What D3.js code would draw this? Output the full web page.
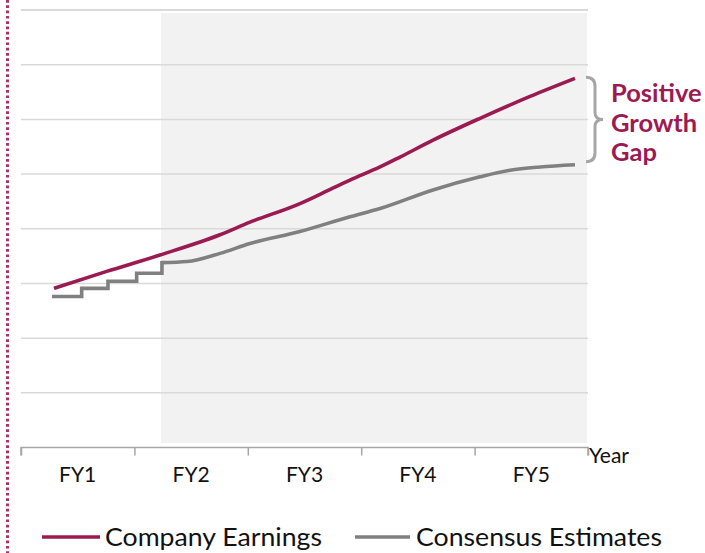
<!DOCTYPE html>
<html>
<head>
<meta charset="utf-8">
<script src="https://cdn.jsdelivr.net/npm/d3@7"></script>
<style>
  html, body { margin: 0; padding: 0; background: #ffffff; }
  svg { display: block; }
</style>
</head>
<body>
<svg id="chart" width="705" height="553"></svg>
<script>
// ---------------- DATA ----------------
const categories = ["FY1", "FY2", "FY3", "FY4", "FY5"];
const axisTitle = "Year";

// Company Earnings: time (years from start of FY1) and value
const companyT = [0.291, 0.756, 1.226, 1.755, 2.019, 2.460, 2.637, 2.901, 3.166, 3.342, 3.633, 4.048, 4.489, 4.885];
const companyV = [29.1, 32.2, 35.2, 38.9, 41.2, 44.6, 46.3, 48.9, 51.3, 53.1, 56.2, 60.2, 64.2, 67.5];

// Consensus Estimates: quarterly steps, then a smooth forecast
const consensusStepT = [0.273, 0.535, 0.767, 1.020, 1.243];
const consensusStepV = [27.6, 29.1, 30.4, 31.85, 33.8];
const consensusT = [1.243, 1.464, 1.755, 2.019, 2.460, 2.901, 3.166, 3.633, 4.048, 4.312, 4.577, 4.885];
const consensusV = [33.8, 34.0, 35.5, 37.3, 39.5, 42.2, 43.7, 47.1, 49.5, 50.7, 51.3, 51.7];

const seriesNames = ["Company Earnings", "Consensus Estimates"];
const forecastStart = 1.235;   // shaded forecast period begins
const yMax = 80, yStep = 10;
const annotationLines = ["Positive", "Growth", "Gap"];

// ---------------- STYLE ----------------
const colCompany = "#9c1a52";
const colConsensus = "#808080";
const font = "Lato, 'Open Sans', sans-serif";

const svg = d3.select("#chart");
const x = d3.scaleLinear().domain([0, categories.length]).range([21, 588]);
const xb = d3.scaleBand().domain(categories).range([21, 588]);
const y = d3.scaleLinear().domain([0, yMax]).range([447.5, 10]);

// left dotted rule
svg.append("line")
  .attr("x1", 7.5).attr("x2", 7.5).attr("y1", 0).attr("y2", 553)
  .attr("stroke", "#a5336c").attr("stroke-width", 3)
  .attr("stroke-dasharray", "2.7 2.6");

// forecast shading
svg.append("rect")
  .attr("x", x(forecastStart)).attr("y", y(yMax) + 3)
  .attr("width", x(categories.length) - 1 - x(forecastStart))
  .attr("height", y(0) - 4.5 - (y(yMax) + 3))
  .attr("fill", "#f2f2f2");

// gridlines
const gridVals = d3.range(yStep, yMax + 0.001, yStep);
svg.append("g").selectAll("line").data(gridVals).join("line")
  .attr("x1", x(0)).attr("x2", x(categories.length))
  .attr("y1", d => y(d)).attr("y2", d => y(d))
  .attr("stroke", "#d9d9d9").attr("stroke-width", d => d === yMax ? 2.2 : 1.5);

// x axis: boundary ticks
const axisG = svg.append("g").attr("transform", `translate(0,${y(0)})`);
axisG.call(d3.axisBottom(x).tickValues(d3.range(0, categories.length + 1)).tickSize(8).tickFormat(""))
  .call(g => g.select(".domain").attr("stroke", "#a6a6a6").attr("stroke-width", 1.5))
  .call(g => g.selectAll(".tick line").attr("stroke", "#a6a6a6").attr("stroke-width", 1.5));
axisG.select(".domain").attr("d", `M${x(0)},8V0H${x(categories.length)}V8`);

// category labels
const labG = svg.append("g").attr("transform", `translate(0,${y(0)})`);
labG.call(d3.axisBottom(xb).tickSize(0).tickPadding(0))
  .call(g => g.select(".domain").remove())
  .call(g => g.selectAll("text")
    .attr("y", 34).attr("dy", null)
    .attr("font-family", font).attr("font-size", 21).attr("fill", "#111"));

svg.append("text")
  .attr("x", x(categories.length) + 1).attr("y", 463)
  .attr("font-family", font).attr("font-size", 21).attr("fill", "#111")
  .text(axisTitle);

// lines
const line = d3.line().x(d => x(d[0])).y(d => y(d[1]));
const stepLine = d3.line().x(d => x(d[0])).y(d => y(d[1])).curve(d3.curveStepAfter);
const smooth = d3.line().x(d => x(d[0])).y(d => y(d[1])).curve(d3.curveMonotoneX);

svg.append("path")
  .attr("d", stepLine(d3.zip(consensusStepT, consensusStepV)) + smooth(d3.zip(consensusT, consensusV)).replace(/^M/, "L"))
  .attr("fill", "none").attr("stroke", colConsensus).attr("stroke-width", 3.6)
  .attr("stroke-linejoin", "miter");

svg.append("path")
  .attr("d", smooth(d3.zip(companyT, companyV)))
  .attr("fill", "none").attr("stroke", colCompany).attr("stroke-width", 3.6)
  .attr("stroke-linejoin", "round");

// bracket
const yTop = y(companyV[companyV.length - 1]) - 1;
const yBot = y(consensusV[consensusV.length - 1]) - 3;
const yMid = (yTop + yBot) / 2;
const bx = 595, bl = 586, bt = 603;
svg.append("path")
  .attr("d", `M${bl},${yTop} Q${bx},${yTop} ${bx},${yTop + 9} L${bx},${yMid - 7} Q${bx},${yMid} ${bt},${yMid} Q${bx},${yMid} ${bx},${yMid + 7} L${bx},${yBot - 9} Q${bx},${yBot} ${bl},${yBot}`)
  .attr("fill", "none").attr("stroke", "#a6a6a6").attr("stroke-width", 3);

svg.append("g").selectAll("text").data(annotationLines).join("text")
  .attr("x", 611).attr("y", (d, i) => 102 + i * 29.5)
  .attr("font-family", font).attr("font-weight", 700).attr("font-size", 25.5)
  .attr("fill", colCompany).text(d => d);

// legend
const legend = [
  { name: seriesNames[0], color: colCompany, x1: 42, x2: 100, tx: 105, w: 217 },
  { name: seriesNames[1], color: colConsensus, x1: 355, x2: 410, tx: 416, w: 246 }
];
const lg = svg.append("g");
lg.selectAll("line").data(legend).join("line")
  .attr("x1", d => d.x1).attr("x2", d => d.x2).attr("y1", 537).attr("y2", 537)
  .attr("stroke", d => d.color).attr("stroke-width", 3.6);
lg.selectAll("text").data(legend).join("text")
  .attr("x", d => d.tx).attr("y", 546)
  .attr("font-family", font).attr("font-size", 25).attr("fill", "#111")
  .attr("textLength", d => d.w).attr("lengthAdjust", "spacingAndGlyphs")
  .text(d => d.name);
</script>
</body>
</html>
